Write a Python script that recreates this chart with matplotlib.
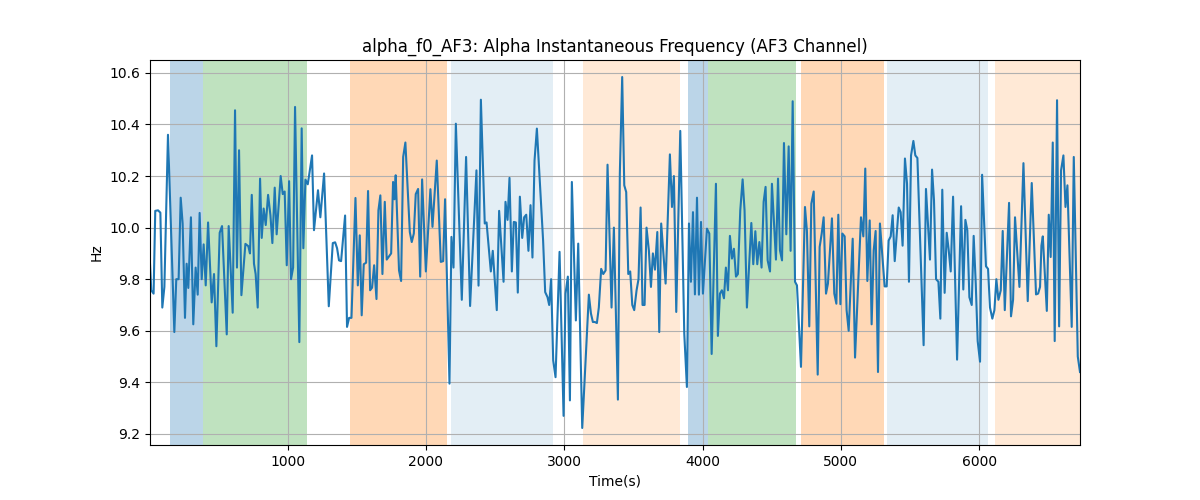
import matplotlib
matplotlib.use("Agg")
import matplotlib.pyplot as plt

time_s = [4, 13, 30, 42, 62, 79, 93, 108, 134, 180, 194, 211, 226, 240, 257, 269, 281, 300, 317, 334,
          349, 363, 378, 392, 407, 424, 450, 467, 484, 508, 525, 559, 573, 602, 619, 633, 648, 665, 694, 715,
          727, 740, 756, 768, 783, 800, 812, 826, 841, 858, 875, 889, 906, 920, 935, 949, 964, 978, 993, 1010,
          1024, 1039, 1053, 1084, 1101, 1113, 1128, 1145, 1176, 1190, 1219, 1236, 1263, 1297, 1326, 1343, 1357, 1371, 1386, 1415,
          1429, 1444, 1461, 1490, 1507, 1521, 1535, 1550, 1567, 1581, 1596, 1610, 1625, 1642, 1656, 1670, 1685, 1702, 1716, 1733,
          1748, 1762, 1772, 1781, 1805, 1820, 1835, 1851, 1883, 1897, 1912, 1926, 1943, 1958, 1972, 1999, 2032, 2047, 2078, 2107,
          2124, 2138, 2170, 2184, 2199, 2216, 2259, 2290, 2319, 2365, 2380, 2397, 2425, 2438, 2469, 2483, 2512, 2529, 2561, 2575,
          2590, 2604, 2621, 2635, 2650, 2664, 2679, 2696, 2710, 2725, 2741, 2756, 2770, 2785, 2802, 2847, 2862, 2879, 2891, 2905,
          2920, 2937, 2966, 2995, 3009, 3026, 3041, 3055, 3084, 3101, 3130, 3178, 3193, 3207, 3221, 3236, 3250, 3267, 3282, 3299,
          3313, 3342, 3359, 3388, 3402, 3419, 3434, 3448, 3463, 3477, 3492, 3506, 3523, 3537, 3552, 3566, 3581, 3595, 3612, 3627,
          3641, 3656, 3673, 3687, 3701, 3733, 3764, 3779, 3793, 3810, 3839, 3868, 3887, 3902, 3916, 3931, 3945, 3960, 3974, 3989,
          4003, 4032, 4049, 4066, 4097, 4111, 4126, 4140, 4155, 4169, 4184, 4198, 4213, 4227, 4242, 4256, 4273, 4290, 4304, 4321,
          4353, 4367, 4382, 4396, 4411, 4427, 4442, 4456, 4471, 4488, 4502, 4531, 4546, 4560, 4575, 4589, 4606, 4623, 4637, 4652,
          4669, 4683, 4712, 4741, 4755, 4772, 4787, 4804, 4833, 4847, 4862, 4876, 4893, 4907, 4936, 4953, 4968, 4982, 4997, 5011,
          5028, 5042, 5057, 5086, 5103, 5146, 5163, 5177, 5192, 5209, 5223, 5238, 5252, 5269, 5283, 5317, 5332, 5346, 5361, 5375,
          5390, 5419, 5433, 5447, 5464, 5479, 5493, 5508, 5525, 5539, 5554, 5599, 5616, 5645, 5660, 5674, 5689, 5706, 5720, 5734,
          5751, 5766, 5780, 5795, 5812, 5841, 5870, 5886, 5901, 5915, 5930, 5947, 5961, 5976, 5990, 6007, 6022, 6050, 6065, 6079,
          6096, 6111, 6125, 6140, 6157, 6171, 6186, 6217, 6231, 6246, 6260, 6292, 6321, 6352, 6381, 6412, 6427, 6441, 6451, 6461,
          6490, 6504, 6518, 6533, 6547, 6564, 6579, 6593, 6610, 6625, 6639, 6670, 6685, 6714, 6730]

freq_hz = [9.86, 9.757, 9.744, 10.065, 10.067, 10.058, 9.69, 9.77, 10.36, 9.595, 9.80, 9.80, 10.116, 10.016, 9.65, 9.86, 9.766, 10.04, 9.625, 9.845,
           9.74, 10.057, 9.80, 9.935, 9.776, 10.02, 9.71, 9.82, 9.54, 9.98, 10.006, 9.586, 10.006, 9.67, 10.455, 9.845, 10.30, 9.738, 9.937, 9.928,
           9.90, 10.127, 9.86, 9.82, 9.69, 10.19, 9.96, 10.074, 10.01, 10.127, 10.048, 9.94, 10.155, 9.974, 10.09, 10.20, 10.13, 10.14, 9.854, 10.18,
           9.80, 9.845, 10.468, 9.556, 10.385, 9.92, 10.186, 10.168, 10.28, 9.99, 10.145, 10.04, 10.21, 9.695, 9.94, 9.943, 9.92, 9.873, 9.87, 10.047,
           9.615, 9.65, 9.65, 10.115, 9.776, 9.97, 9.66, 9.858, 9.864, 10.142, 9.757, 9.767, 9.854, 9.723, 10.067, 10.125, 9.82, 10.10, 9.876, 9.889,
           9.90, 10.177, 10.11, 10.203, 9.834, 9.793, 10.274, 10.33, 9.983, 9.944, 9.977, 10.13, 10.15, 9.81, 10.187, 9.83, 10.149, 10.003, 10.26, 9.867,
           9.87, 10.11, 9.395, 9.964, 9.845, 10.403, 9.72, 10.274, 9.696, 10.222, 9.775, 10.496, 10.016, 10.02, 9.83, 9.91, 9.68, 10.065, 9.79, 10.10,
           10.03, 10.193, 9.83, 10.022, 10.02, 9.748, 10.12, 9.96, 10.04, 10.05, 9.91, 10.087, 9.884, 10.26, 10.384, 9.95, 9.75, 9.73, 9.70, 9.80,
           9.485, 9.42, 9.906, 9.27, 9.744, 9.81, 9.33, 10.177, 9.64, 9.938, 9.223, 9.74, 9.667, 9.634, 9.634, 9.63, 9.69, 9.84, 9.82, 9.834,
           10.244, 9.69, 10.0, 9.333, 10.21, 10.584, 10.164, 10.138, 9.82, 9.83, 9.70, 9.68, 9.757, 9.80, 10.078, 9.70, 9.70, 10.0, 9.912, 9.77,
           9.90, 9.837, 9.983, 9.595, 10.016, 9.783, 10.284, 10.08, 10.2, 9.673, 10.375, 9.589, 9.382, 10.016, 9.79, 10.06, 9.741, 10.116, 9.74, 10.022,
           9.744, 9.996, 9.977, 9.51, 10.17, 9.58, 9.744, 9.757, 9.726, 9.845, 9.757, 9.968, 9.88, 9.918, 9.81, 9.82, 10.067, 10.187, 10.067, 9.69,
           10.018, 9.858, 9.986, 9.858, 9.944, 9.845, 10.10, 10.158, 9.873, 9.83, 10.17, 9.876, 10.19, 9.912, 9.873, 10.328, 9.974, 10.315, 9.91, 10.49,
           9.79, 9.776, 9.46, 10.08, 9.987, 9.617, 10.093, 10.14, 9.43, 9.925, 9.977, 10.04, 9.744, 9.783, 10.036, 9.744, 9.705, 10.05, 9.703, 9.977,
           9.966, 9.68, 9.60, 9.957, 9.496, 10.04, 9.966, 10.229, 9.793, 10.028, 9.625, 9.912, 9.987, 9.44, 10.016, 9.772, 9.772, 9.95, 9.966, 10.048,
           9.87, 10.078, 10.06, 9.93, 10.268, 10.17, 9.79, 10.28, 10.336, 10.28, 10.27, 9.544, 10.15, 9.876, 10.225, 10.106, 9.80, 9.79, 9.647, 10.147,
           9.747, 9.98, 9.915, 9.83, 10.12, 9.488, 10.083, 9.76, 10.03, 9.99, 9.73, 9.70, 9.968, 9.783, 9.56, 9.48, 10.205, 9.85, 9.84, 9.69,
           9.647, 9.68, 9.80, 9.72, 9.757, 9.987, 9.68, 10.096, 9.656, 9.72, 10.04, 9.77, 10.25, 9.715, 10.173, 9.741, 9.744, 9.77, 9.93, 9.966,
           9.677, 10.05, 9.886, 10.33, 9.56, 10.494, 9.617, 10.222, 10.28, 10.08, 10.164, 9.615, 10.274, 9.50, 9.44]

span_starts = [146, 385, 1450, 2180, 3134, 3895, 4040, 4712, 5334, 6116]
span_ends = [385, 1139, 2152, 2918, 3837, 4040, 4677, 5313, 6065, 6731]
span_colors = ['tab:blue', 'tab:green', 'tab:orange', 'tab:blue', 'tab:orange',
               'tab:blue', 'tab:green', 'tab:orange', 'tab:blue', 'tab:orange']
span_alphas = [0.3, 0.3, 0.3, 0.12, 0.17, 0.3, 0.3, 0.3, 0.12, 0.17]

fig, ax = plt.subplots(figsize=(12, 5), dpi=100)
for s, e, c, a in zip(span_starts, span_ends, span_colors, span_alphas):
    ax.axvspan(s, e, color=c, alpha=a, linewidth=0)
ax.plot(time_s, freq_hz, color='tab:blue', linewidth=1.5)
ax.set_xlim(time_s[0], time_s[-1])
ax.set_ylim(9.157, 10.65)
ax.set_yticks([9.2, 9.4, 9.6, 9.8, 10.0, 10.2, 10.4, 10.6])
ax.grid(True)
ax.set_title("alpha_f0_AF3: Alpha Instantaneous Frequency (AF3 Channel)")
ax.set_xlabel("Time(s)")
ax.set_ylabel("Hz")
fig.savefig("out.png", dpi=100)
